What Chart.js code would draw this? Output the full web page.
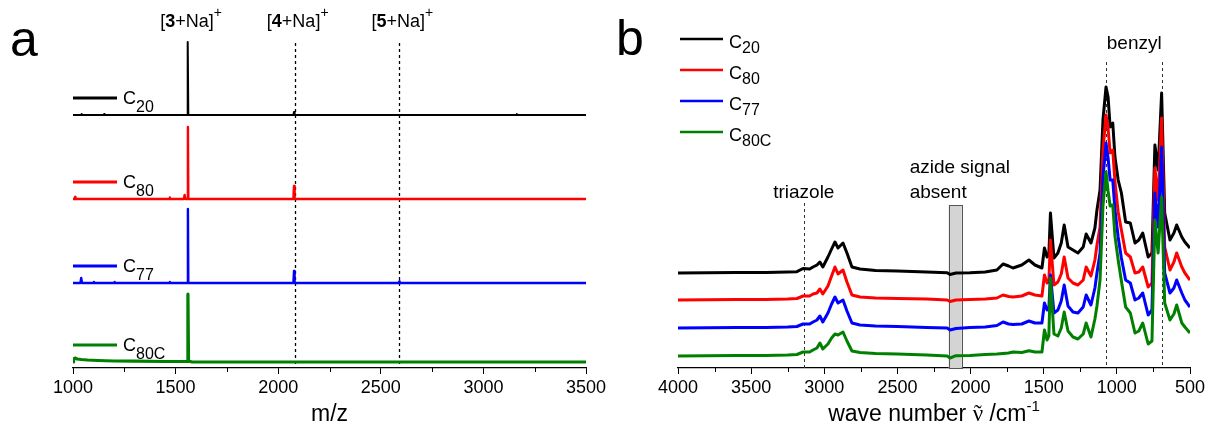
<!DOCTYPE html>
<html>
<head>
<meta charset="utf-8">
<title>MALDI and IR spectra</title>
<script src="https://cdn.jsdelivr.net/npm/chart.js@4.4.1/dist/chart.umd.min.js"></script>
<style>
  html, body { margin: 0; padding: 0; background: #fff; }
  #wrap { position: relative; width: 1211px; height: 430px; overflow: hidden; }
  #msChart { position: absolute; left: 0; top: 0; }
  #irChart { position: absolute; left: 605px; top: 0; }
</style>
</head>
<body>
<div id="wrap">
  <canvas id="msChart" width="620" height="430"></canvas>
  <canvas id="irChart" width="606" height="430"></canvas>
</div>
<script>
const FONT = "'Liberation Sans', Arial, Helvetica, sans-serif";

// samples: C + subscript, colour per trace
const sampleSubs = ['20', '80', '77', '80C'];
const sampleColors = ['#000000', '#ff0000', '#0000ff', '#008000'];

// ---- panel a: mass spectra, [m/z, intensity] ----
const msC20 = [[1000,0],[1040,0],[1042,1],[1044,0],[1150,0],[1152,1],[1154,0],[1556,0],[1558,1],[1559,0],
  [1560,73],[1562,0],[2074,0],[2077,3],[2080,0],[3160,0],[3163,1],[3166,0],[3500,0]];
const msC80 = [[1000,0],[1008,0],[1010,2],[1012,0],[1470,0],[1472,1.5],[1474,0],[1540,0],[1544,4],[1548,0],
  [1558,0],[1560,72],[1562,0],[2074,0],[2077,13],[2080,0],[3500,0]];
const msC77 = [[1000,0],[1036,0],[1040,5],[1044,0],[1100,0],[1102,1],[1104,0],[1200,0],[1202,1],[1204,0],
  [1470,0],[1472,1],[1474,0],[1558,0],[1560,74],[1562,0],[2074,0],[2077,12],[2080,0],[2588,0],[2590,1.5],
  [2592,0],[3500,0]];
const msC80C = [[1000,0],[1003,3],[1010,4],[1020,3],[1040,2.5],[1070,2],[1120,1.5],[1200,1],[1300,0.8],
  [1450,0.5],[1557,0.5],[1560,68],[1563,1],[1580,0],[3500,0]];
const msOffsets = [253, 169, 85, 6];
const msIons = ['3', '4', '5'];
const msIonMz = [1560, 2080, 2590];
const msMinorTicks = [1250, 1750, 2250, 2750, 3250];

// ---- panel b: IR spectra ----
const irWavenumber = [
  4000, 3800, 3600, 3400, 3250, 3187, 3145, 3100, 3077, 3050,
  3030, 3010, 2975, 2950, 2927, 2906, 2872, 2845, 2811, 2756,
  2650, 2500, 2300, 2160, 2140, 2100, 2004, 1900, 1820, 1778,
  1740, 1710, 1650, 1601, 1560, 1512, 1495, 1477, 1465, 1454,
  1430, 1403, 1380, 1360, 1334, 1300, 1266, 1230, 1210, 1177,
  1150, 1136, 1115, 1095, 1074, 1060, 1046, 1028, 1013, 991,
  969, 940, 908, 876, 850, 823, 786, 760, 740, 718,
  694, 673, 637, 610, 591, 556, 535, 500];
const irC20 = [
  0, 0.3, 0.5, 0.5, 1, 1.3, 4.5, 4, 6, 8,
  11, 6, 16, 24, 31, 25, 30, 20, 6, 4,
  2.5, 2, 1, 0.3, -1.5, 0, 0.3, 1, 3, 9,
  7, 5, 8, 13, 8, 5, 25, 16, 18, 60,
  15, 20, 30, 48, 26, 23, 20, 26, 39, 30,
  45, 63, 83, 153, 186, 176, 146, 150, 116, 93,
  80, 51, 50, 30, 33, 40, 16, 20, 128, 103,
  180, 60, 33, 40, 48, 36, 31, 25];
const irC80 = [
  0, 0.3, 0.5, 0.5, 1, 1.5, 4, 4, 6, 7,
  11, 6, 14, 24, 33, 26, 30, 18, 5, 3,
  2, 1.5, 1, 0, -1.5, 0, 0.5, 1, 2, 5,
  3.5, 3, 4, 7, 5, 4, 25, 17, 18, 60,
  15, 18, 26, 43, 22, 17, 15, 20, 33, 24,
  40, 55, 73, 150, 185, 172, 147, 150, 118, 88,
  70, 47, 43, 27, 28, 33, 13, 17, 132, 100,
  182, 53, 30, 38, 47, 33, 27, 20];
const irC77 = [
  0, 0.3, 0.5, 0.5, 1, 1.5, 4, 4, 6, 8,
  12, 6, 15, 24, 31, 25, 28, 17, 5, 3,
  2, 1.5, 0.5, 0, -2, -0.5, 0.5, 1, 2.5, 6,
  4, 3.5, 4, 7, 5, 5, 25, 18, 19, 53,
  15, 18, 27, 43, 22, 16, 15, 21, 33, 23,
  40, 55, 75, 150, 185, 170, 148, 148, 118, 91,
  70, 48, 45, 28, 30, 35, 13, 18, 135, 101,
  181, 55, 35, 40, 48, 35, 28, 21];
const irC80C = [
  0, 0.3, 0.5, 0.5, 1, 1.5, 4, 4, 6, 8,
  13, 7, 12, 18, 22, 21, 24, 15, 5, 3.5,
  2.5, 2, 1, 0, -2, 0.3, 0.5, 1.5, 2, 2.5,
  3, 4, 3.5, 5.3, 4, 4, 26, 16, 20, 78,
  22, 20, 28, 44, 25, 19, 17, 22, 33, 19,
  37, 50, 76, 150, 184, 165, 150, 151, 120, 96,
  75, 49, 43, 23, 25, 33, 12, 15, 136, 103,
  159, 53, 36, 42, 51, 33, 29, 23];
const irOffsets = [95, 68, 40, 12];
const irMinorTicks = [3750, 3250, 2750, 2250, 1750, 1250, 750];
const triazoleMark = 3140;
const benzylMarks = [1072, 690];
const azideBand = [2150, 2060];

const AXIS_PX = 368; // pixel row of both x axes

// draws a run of text pieces with their own fonts / vertical shifts,
// optionally with an accent character centred over a piece
function drawRuns(ctx, runs, x, y, align) {
  let total = 0;
  runs.forEach(r => { ctx.font = r.font; r.w = ctx.measureText(r.text).width; total += r.w; });
  let cx = align === 'center' ? x - total / 2 : x;
  ctx.textBaseline = 'alphabetic';
  runs.forEach(r => {
    ctx.font = r.font;
    ctx.textAlign = 'left';
    ctx.fillText(r.text, cx, y + (r.dy || 0));
    if (r.accent) {
      ctx.textAlign = 'center';
      ctx.fillText(r.accent, cx + r.w / 2, y + (r.dy || 0));
    }
    cx += r.w;
  });
}

function sampleLabel(sub, subShift) {
  return [{ text: 'C', font: '18px ' + FONT }, { text: sub, font: '16px ' + FONT, dy: subShift }];
}

function minorTicks(ctx, scale, values, bottom) {
  ctx.strokeStyle = '#000';
  ctx.lineWidth = 1;
  values.forEach(v => {
    const px = Math.round(scale.getPixelForValue(v)) + 0.5;
    ctx.beginPath(); ctx.moveTo(px, bottom); ctx.lineTo(px, bottom + 4); ctx.stroke();
  });
}

function xAxis(min, max, reverse) {
  return {
    type: 'linear', min: min, max: max, reverse: reverse,
    ticks: { stepSize: 500, color: '#000', padding: 3, font: { family: FONT, size: 18 },
             callback: v => String(v) },
    grid: { drawOnChartArea: false, drawTicks: true, tickLength: 6, tickColor: '#000', tickWidth: 1 },
    border: { display: true, color: '#000', width: 1.2 },
    afterFit: s => { s.height = 430 - AXIS_PX; }
  };
}

const baseOptions = (xScale, padding) => ({
  responsive: false,
  animation: false,
  events: [],
  layout: { padding: padding },
  plugins: { legend: { display: false }, tooltip: { enabled: false } },
  elements: { point: { radius: 0 }, line: { tension: 0, borderJoinStyle: 'round' } },
  scales: { x: xScale, y: { display: false, min: 0, max: AXIS_PX } }
});

// ---------- panel a ----------
const msSeries = [msC20, msC80, msC77, msC80C];
const msWidths = [2, 2.4, 2.4, 3.2];

const msDecor = {
  id: 'msDecor',
  beforeDatasetsDraw(chart) {
    const { ctx, chartArea, scales: { x } } = chart;
    ctx.save();
    ctx.strokeStyle = '#000';
    ctx.lineWidth = 1.3;
    ctx.setLineDash([3, 3]);
    msIonMz.slice(1).forEach(mz => {
      const px = Math.round(x.getPixelForValue(mz)) + 0.5;
      ctx.beginPath(); ctx.moveTo(px, 43); ctx.lineTo(px, chartArea.bottom); ctx.stroke();
    });
    ctx.restore();
  },
  afterDraw(chart) {
    const { ctx, chartArea, scales: { x, y } } = chart;
    ctx.save();
    ctx.fillStyle = '#000';
    minorTicks(ctx, x, msMinorTicks, chartArea.bottom);

    // ion labels above the peaks
    msIons.forEach((n, i) => {
      const px = x.getPixelForValue(msIonMz[i]);
      const main = [{ text: '[', font: '18px ' + FONT }, { text: n, font: 'bold 18px ' + FONT },
                    { text: '+Na]', font: '18px ' + FONT }];
      let w = 0;
      main.forEach(r => { ctx.font = r.font; w += ctx.measureText(r.text).width; });
      drawRuns(ctx, main.concat([{ text: '+', font: '14px ' + FONT, dy: -10 }]), px - 1 - w / 2, 27, 'left');
    });

    // sample keys next to each trace
    msSeries.forEach((s, i) => {
      const ly = y.getPixelForValue(msOffsets[i]) - 17;
      ctx.strokeStyle = sampleColors[i];
      ctx.lineWidth = 3;
      ctx.beginPath(); ctx.moveTo(x.left, ly); ctx.lineTo(x.left + 44, ly); ctx.stroke();
      drawRuns(ctx, sampleLabel(sampleSubs[i], 8), x.left + 50, ly + 6, 'left');
    });

    ctx.font = '50px ' + FONT;
    ctx.textAlign = 'left';
    ctx.fillText('a', 10, 56);

    ctx.font = '23px ' + FONT;
    ctx.textAlign = 'center';
    ctx.fillText('m/z', (chartArea.left + chartArea.right) / 2, 421);
    ctx.restore();
  }
};

new Chart(document.getElementById('msChart'), {
  type: 'line',
  data: {
    datasets: msSeries.map((s, i) => ({
      data: s.map(p => ({ x: p[0], y: p[1] + msOffsets[i] })),
      borderColor: sampleColors[i],
      borderWidth: msWidths[i],
      order: 4 - i
    }))
  },
  options: baseOptions(xAxis(1000, 3500, false), { left: 73, right: 34, top: 0, bottom: 0 }),
  plugins: [msDecor]
});

// ---------- panel b ----------
const irSeries = [irC20, irC80, irC77, irC80C];

const irDecor = {
  id: 'irDecor',
  beforeDatasetsDraw(chart) {
    const { ctx, chartArea, scales: { x, y } } = chart;
    ctx.save();
    // grey box where the azide band would be
    const x1 = x.getPixelForValue(azideBand[0]);
    const x2 = x.getPixelForValue(azideBand[1]);
    const top = y.getPixelForValue(163);
    ctx.fillStyle = '#d4d4d4';
    ctx.fillRect(x1, top, x2 - x1, chartArea.bottom - top);
    ctx.strokeStyle = '#555';
    ctx.lineWidth = 1;
    ctx.strokeRect(Math.round(x1) + 0.5, Math.round(top) + 0.5, Math.round(x2 - x1), chartArea.bottom - Math.round(top));

    ctx.strokeStyle = '#333';
    ctx.setLineDash([3, 3]);
    const dashed = [[triazoleMark, 165]].concat(benzylMarks.map(b => [b, 306]));
    dashed.forEach(d => {
      const px = Math.round(x.getPixelForValue(d[0])) + 0.5;
      ctx.beginPath(); ctx.moveTo(px, y.getPixelForValue(d[1])); ctx.lineTo(px, chartArea.bottom); ctx.stroke();
    });
    ctx.restore();
  },
  afterDraw(chart) {
    const { ctx, chartArea, scales: { x } } = chart;
    ctx.save();
    ctx.fillStyle = '#000';
    minorTicks(ctx, x, irMinorTicks, chartArea.bottom);

    ctx.font = '19px ' + FONT;
    ctx.textAlign = 'center';
    ctx.fillText('triazole', x.getPixelForValue(triazoleMark), 198);
    const bx = (x.getPixelForValue(benzylMarks[0]) + x.getPixelForValue(benzylMarks[1])) / 2;
    ctx.fillText('benzyl', bx, 49);
    ctx.textAlign = 'left';
    const ax = x.getPixelForValue(azideBand[0]) - 39;
    ctx.fillText('azide signal', ax, 173);
    ctx.fillText('absent', ax, 198);

    // sample key
    sampleSubs.forEach((sub, i) => {
      const ly = 39 + 31 * i;
      ctx.strokeStyle = sampleColors[i];
      ctx.lineWidth = 2.5;
      ctx.beginPath(); ctx.moveTo(75, ly); ctx.lineTo(118, ly); ctx.stroke();
      drawRuns(ctx, sampleLabel(sub, 5), 124, ly + 9, 'left');
    });

    ctx.font = '50px ' + FONT;
    ctx.textAlign = 'left';
    ctx.fillText('b', 11, 55);

    const cx = (chartArea.left + chartArea.right) / 2;
    drawRuns(ctx, [
      { text: 'wave number ', font: '23px ' + FONT },
      { text: '\u03BD', font: '23px "Liberation Serif", serif', accent: '\u02DC' },
      { text: ' /cm', font: '23px ' + FONT },
      { text: '-1', font: '15px ' + FONT, dy: -10 }
    ], cx, 421, 'center');
    ctx.restore();
  }
};

new Chart(document.getElementById('irChart'), {
  type: 'line',
  data: {
    datasets: irSeries.map((s, i) => ({
      data: irWavenumber.map((w, k) => ({ x: w, y: s[k] + irOffsets[i] })),
      borderColor: sampleColors[i],
      borderWidth: 3,
      order: 4 - i
    }))
  },
  options: baseOptions(xAxis(500, 4000, true), { left: 73, right: 21, top: 0, bottom: 0 }),
  plugins: [irDecor]
});
</script>
</body>
</html>
